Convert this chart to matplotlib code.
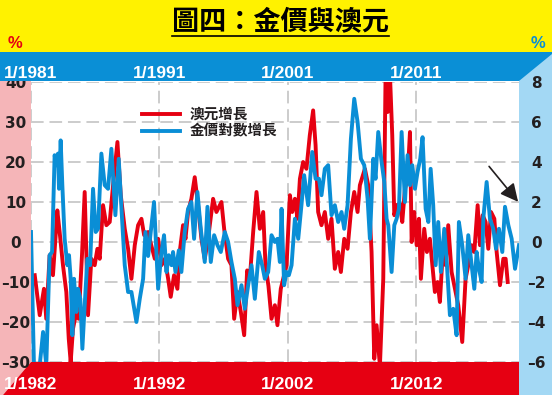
import matplotlib
matplotlib.use("Agg")
import matplotlib.pyplot as plt
from matplotlib.patches import Polygon, Rectangle
from matplotlib.lines import Line2D
from matplotlib.font_manager import FontProperties
import numpy as np

# ---------------- data ----------------
# AUD growth (%), dated on the bottom axis
aud_dates = [1982.29, 1982.68, 1983.01, 1983.19, 1983.45, 1983.71, 1984.05, 1984.23, 1984.49, 1984.75,
             1984.94, 1985.09, 1985.27, 1985.53, 1985.71, 1985.97, 1986.18, 1986.44, 1986.70, 1986.96,
             1987.17, 1987.35, 1987.61, 1987.87, 1988.13, 1988.39, 1988.73, 1988.99, 1989.30, 1989.56,
             1989.82, 1990.08, 1990.34, 1990.60, 1990.81, 1991.12, 1991.38, 1991.64, 1991.90, 1992.16,
             1992.42, 1992.68, 1992.88, 1993.14, 1993.40, 1993.58, 1993.84, 1994.03, 1994.23, 1994.49,
             1994.75, 1995.01, 1995.27, 1995.53, 1995.79, 1996.18, 1996.44, 1996.83, 1997.04, 1997.35,
             1997.61, 1997.82, 1998.08, 1998.34, 1998.60, 1998.83, 1999.04, 1999.30, 1999.56, 1999.82,
             2000.08, 2000.26, 2000.49, 2000.73, 2000.99, 2001.19, 2001.45, 2001.64, 2001.90, 2002.16,
             2002.34, 2002.55, 2002.75, 2002.94, 2003.19, 2003.45, 2003.71, 2003.97, 2004.16, 2004.36,
             2004.62, 2004.88, 2005.14, 2005.40, 2005.66, 2005.92, 2006.13, 2006.39, 2006.65, 2006.91,
             2007.17, 2007.43, 2007.61, 2008.00, 2008.26, 2008.52, 2008.73, 2008.91, 2009.17, 2009.43,
             2009.61, 2009.77, 2009.95, 2010.13, 2010.29, 2010.47, 2010.73, 2010.91, 2011.12, 2011.32,
             2011.51, 2011.64, 2011.84, 2012.03, 2012.21, 2012.36, 2012.62, 2012.83, 2013.06, 2013.25,
             2013.45, 2013.66, 2013.84, 2014.05, 2014.29, 2014.49, 2014.75, 2014.96, 2015.27, 2015.58,
             2015.84, 2016.05, 2016.31, 2016.52, 2016.78, 2016.96, 2017.17, 2017.40, 2017.61, 2017.82,
             2018.08, 2018.26, 2018.52, 2018.78, 2018.96, 2019.12]
aud_growth = [-8.3, -18.3, -11.7, -19.2, -3.3, -8.3, 7.9, 2.5, -5.8, -12.5,
              -24.2, -30.0, -21.7, -17.5, -19.2, -3.3, 12.5, -18.3, -4.2, -5.8,
              -1.7, -4.2, 9.2, 4.2, 5.0, 14.2, 25.0, 11.7, 3.3, -1.7,
              -9.2, -0.8, 4.2, 5.8, 1.7, 2.5, -1.0, -4.2, 0.8, -5.8,
              -4.2, -9.2, -13.7, -8.3, -11.7, -2.5, 4.2, 0.8, 7.5, 10.8,
              16.2, 9.2, 0.8, -4.2, 0.8, 10.8, 7.5, 10.0, 3.3, -4.2,
              -5.8, -19.2, -12.5, -17.5, -23.3, -7.1, -9.2, 2.5, 12.5, 3.3,
              7.5, -5.8, -11.0, -19.2, -15.8, -20.8, -11.7, -9.2, -5.8, 11.7,
              7.5, 10.8, 5.8, 15.8, 20.0, 18.3, 26.7, 32.9, 24.2, 7.5,
              4.2, 7.5, 0.8, 5.8, -6.7, -2.5, -7.5, 0.8, -1.7, 7.5,
              12.5, 7.5, 14.2, 18.3, 14.2, -2.5, -29.2, -20.8, -31.0, -9.2,
              42.0, 32.5, 42.0, 26.7, 6.7, 9.2, 9.6, 5.0, 13.3, 15.8,
              27.5, 0.0, 7.5, -0.8, 5.8, -9.2, 3.3, -2.5, 0.8, -5.8,
              -12.5, -10.0, -15.0, -3.3, -5.8, 4.2, -7.5, -10.8, -15.8, -25.0,
              -9.2, -5.8, -0.8, -2.5, 9.2, -0.8, 6.7, 5.0, -1.7, 7.5,
              5.8, -2.5, -10.8, -4.2, -4.2, -10.0]

# Gold log growth (%), dated on the top axis (gold leads by one year)
gold_dates = [1981.00, 1981.23, 1981.68, 1981.94, 1982.19, 1982.45, 1982.64, 1982.84, 1982.97, 1983.10,
              1983.18, 1983.31, 1983.44, 1983.62, 1983.83, 1983.96, 1984.09, 1984.22, 1984.35, 1984.53,
              1984.66, 1984.84, 1985.00, 1985.18, 1985.39, 1985.60, 1985.83, 1986.04, 1986.22, 1986.48,
              1986.74, 1987.00, 1987.26, 1987.57, 1987.83, 1988.09, 1988.30, 1988.56, 1988.82, 1989.21,
              1989.47, 1989.73, 1989.91, 1990.12, 1990.58, 1990.90, 1991.16, 1991.36, 1991.55, 1991.73,
              1991.94, 1992.06, 1992.25, 1992.51, 1992.71, 1992.97, 1993.23, 1993.49, 1993.70, 1993.96,
              1994.22, 1994.53, 1994.74, 1995.00, 1995.26, 1995.52, 1995.78, 1996.09, 1996.35, 1996.61,
              1996.87, 1997.08, 1997.39, 1997.65, 1997.91, 1998.17, 1998.43, 1998.74, 1999.00, 1999.21,
              1999.47, 1999.73, 1999.99, 2000.19, 2000.38, 2000.51, 2000.71, 2000.90, 2001.08, 2001.29,
              2001.55, 2001.81, 2002.06, 2002.27, 2002.58, 2002.90, 2003.16, 2003.42, 2003.62, 2003.88,
              2004.14, 2004.40, 2004.66, 2004.92, 2005.18, 2005.39, 2005.65, 2005.91, 2006.17, 2006.43,
              2006.69, 2006.95, 2007.21, 2007.39, 2007.65, 2007.83, 2008.04, 2008.30, 2008.51, 2008.69,
              2008.82, 2009.08, 2009.29, 2009.47, 2009.65, 2009.86, 2010.12, 2010.32, 2010.51, 2010.69,
              2010.90, 2011.10, 2011.31, 2011.49, 2011.73, 2011.94, 2012.12, 2012.32, 2012.51, 2012.71,
              2012.92, 2013.18, 2013.36, 2013.62, 2013.88, 2014.14, 2014.32, 2014.58, 2014.84, 2015.05,
              2015.31, 2015.52, 2015.70, 2015.88, 2016.09, 2016.22, 2016.48, 2016.74, 2017.00, 2017.21,
              2017.44, 2017.70, 2017.91, 2018.17, 2018.43, 2018.69, 2019.00]
gold_growth = [0.50, -6.16, -6.16, -4.50, -6.16, -0.66, -0.50, 4.34, 3.84, 4.42,
               2.66, 5.08, 2.84, 0.16, -1.16, -0.66, -1.84, -4.66, -1.84, -3.50,
               -2.34, -2.84, -5.34, -3.16, -0.84, -1.16, 2.66, 0.50, 0.66, 4.42,
               2.84, 2.66, 4.66, 1.34, 4.16, 1.16, -1.16, -2.50, -2.50, -4.00,
               -2.84, -1.84, 0.50, -0.70, 2.00, -2.34, -0.50, 0.34, -1.50, -0.66,
               -1.16, -0.50, -1.50, -0.42, -1.50, 0.50, 1.66, 2.00, 0.16, 2.50,
               0.66, -1.00, 1.76, -1.00, 0.34, -0.16, -0.50, 0.50, 0.00, -1.00,
               -1.84, -3.16, -2.16, -3.34, -2.16, -1.16, -2.84, -0.50, -1.16, -1.84,
               -1.50, 0.34, 0.00, 0.16, -1.00, 1.66, -2.16, -1.50, -1.66, -1.16,
               1.16, 0.16, 1.84, 3.34, 1.84, 4.50, 3.16, 3.16, 2.34, 3.66,
               3.84, 1.34, 1.84, 1.00, 1.50, 0.66, 1.84, 5.16, 7.16, 6.00,
               4.16, 3.84, 2.16, 0.16, 4.16, 3.16, 5.50, 4.00, 3.00, 1.16,
               0.84, -1.50, 0.84, 1.16, 1.66, 5.50, 2.00, 4.34, 2.84, 3.84,
               2.66, 3.50, 4.16, 5.24, 1.66, 1.00, 3.66, 1.84, -1.16, 1.00,
               -1.50, 0.66, -0.84, -3.66, -3.34, -4.66, 1.00, -0.16, -1.84, 0.34,
               -1.16, -2.34, -0.50, -1.34, -2.00, 1.16, 3.00, 1.16, 0.66, -0.34,
               0.66, -0.50, 1.76, 0.84, 0.16, -1.34, -0.16]
GOLD_LEAD = 1  # years the gold series is shifted forward

left_ticks = [-30, -20, -10, 0, 10, 20, 30, 40]
right_ticks = [-6, -4, -2, 0, 2, 4, 6, 8]
bottom_ticks = [1982, 1992, 2002, 2012]
top_ticks = [1981, 1991, 2001, 2011]

title = "圖四：金價與澳元"
aud_label = "澳元增長"
gold_label = "金價對數增長"

# ---------------- style ----------------
W, H = 552, 395
YELLOW = "#fff200"
BLUE_BAND = "#0a8fd6"
LIGHT_BLUE = "#a3d8f4"
PINK = "#f5b5b8"
RED_BAND = "#e60012"
RED = "#e60012"
BLUE = "#0a8ed6"
DARK = "#231f20"
CJK = ["Noto Sans CJK TC", "DejaVu Sans"]

def fx(x):
    return x / W

def fy(y):
    return 1 - y / H

def fmt(t):
    return f"{t}".replace("-", "\u2013")

fig = plt.figure(figsize=(W / 100, H / 100), dpi=100)
fig.patch.set_facecolor("white")

def poly(pts, color):
    p = Polygon([(fx(a), fy(b)) for a, b in pts], closed=True, transform=fig.transFigure,
                facecolor=color, edgecolor="none", zorder=-5)
    fig.add_artist(p)

poly([(0, 0), (W, 0), (W, 52), (0, 52)], YELLOW)
poly([(0, 52), (W, 52), (W, 81), (0, 81)], BLUE_BAND)
poly([(519, 81), (W, 81), (W, 54)], LIGHT_BLUE)
poly([(519, 81), (W, 81), (W, H), (519, H)], LIGHT_BLUE)
poly([(0, 81), (31, 81), (31, 362), (3, H), (0, H)], PINK)
poly([(31, 362), (519, 362), (519, H), (3, H)], RED_BAND)

ax = fig.add_axes([fx(31), fy(362), (519 - 31) / W, (362 - 82) / H])
ax.set_facecolor("white")
ax.set_xlim(1982.0, 2020.0)
ax.set_ylim(-30, 40)
for s in ax.spines.values():
    s.set_visible(False)

# clip region for the left labels: below the top blue band
below_band = Rectangle((0, 0), 1, fy(81), transform=fig.transFigure)

ax.set_yticks(left_ticks)
ax.set_yticklabels([fmt(t) for t in left_ticks])
ax.tick_params(axis="y", length=0, pad=11, labelsize=11, labelcolor=DARK)
for lab in ax.get_yticklabels():
    lab.set_fontweight("bold")
    lab.set_horizontalalignment("center")
    lab.set_clip_path(below_band)
    lab.set_clip_on(True)

ax.set_xticks(bottom_ticks)
ax.set_xticklabels([f"1/{t}" for t in bottom_ticks])
ax.tick_params(axis="x", length=0, pad=11, labelsize=12.5, labelcolor="white")
for lab in ax.get_xticklabels():
    lab.set_fontweight("bold")
    lab.set_family("Liberation Sans")

ax.grid(True, color="#cccccc", lw=1.4, ls=(0, (6.5, 3)))

top = ax.secondary_xaxis("top", functions=(lambda x: x - GOLD_LEAD, lambda x: x + GOLD_LEAD))
top.set_xticks(top_ticks)
top.set_xticklabels([f"1/{t}" for t in top_ticks])
top.tick_params(axis="x", length=0, pad=0.5, labelsize=12.5, labelcolor="white")
for lab in top.get_xticklabels():
    lab.set_fontweight("bold")
    lab.set_family("Liberation Sans")
for s in top.spines.values():
    s.set_visible(False)

ax.plot(aud_dates, aud_growth, color=RED, lw=2.8, solid_joinstyle="round", label=aud_label)

ax2 = ax.twinx()
ax2.set_ylim(-6, 8)
ax2.set_yticks(right_ticks)
ax2.set_yticklabels([fmt(t) for t in right_ticks])
ax2.tick_params(axis="y", length=0, pad=12.5, labelsize=11, labelcolor=DARK)
for lab in ax2.get_yticklabels():
    lab.set_fontweight("bold")
    lab.set_horizontalalignment("center")
for s in ax2.spines.values():
    s.set_visible(False)
ax2.plot(np.array(gold_dates) + GOLD_LEAD, gold_growth, color=BLUE, lw=2.8,
         solid_joinstyle="round", label=gold_label)

h1, l1 = ax.get_legend_handles_labels()
h2, l2 = ax2.get_legend_handles_labels()
leg = ax2.legend(h1 + h2, l1 + l2, loc="upper left",
                 bbox_to_anchor=((142 - 31) / 488, (362 - 106) / 280),
                 frameon=False, borderpad=0, borderaxespad=0, handlelength=2.6,
                 handletextpad=0.7, labelspacing=0.05,
                 prop=FontProperties(family=CJK, size=10.5, weight="bold"))
for t in leg.get_texts():
    t.set_color(DARK)

ax.annotate("", xy=(2019.93, 10.05), xytext=(2017.67, 18.9),
            arrowprops=dict(arrowstyle="-|>", color=DARK, lw=1.2, mutation_scale=27,
                            shrinkA=0, shrinkB=0), annotation_clip=False, zorder=10)

fig.text(fx(281), fy(22), title, ha="center", va="center", fontsize=19.5,
         fontweight="bold", family=CJK, color="black")
fig.add_artist(Line2D([fx(172), fx(389)], [fy(36), fy(36)], transform=fig.transFigure,
                      color="black", lw=1.2))
fig.text(fx(15), fy(43), "%", ha="center", va="center", fontsize=12, fontweight="bold",
         family="Liberation Sans", color=RED)
fig.text(fx(538), fy(43), "%", ha="center", va="center", fontsize=12, fontweight="bold",
         family="Liberation Sans", color=BLUE)

fig.savefig("out.png", dpi=100)
